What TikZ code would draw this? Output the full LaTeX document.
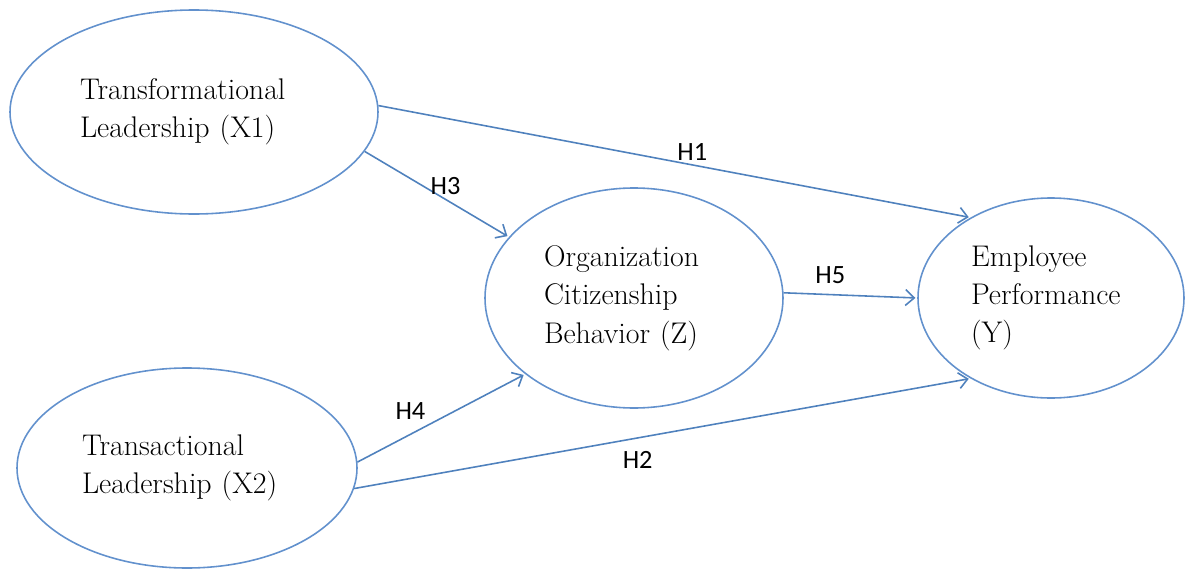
\documentclass[tikz,border=0pt]{standalone}
\usepackage{fontspec}
\newfontfamily\labelfont{Carlito}
\usetikzlibrary{arrows.meta,shapes.geometric}

\definecolor{linkblue}{RGB}{79,129,189}
\definecolor{ovalblue}{RGB}{98,145,205}

\begin{document}
\begin{tikzpicture}[
  construct/.style={draw=ovalblue, line width=0.9pt, ellipse, align=left, inner sep=0pt, font=\fontsize{17}{21.8}\selectfont},
  arrow/.style={-{Straight Barb[length=5pt,width=9pt]}, draw=linkblue, line width=0.9pt, shorten >=1pt},
  hyp/.style={font=\labelfont\fontsize{15}{18}\selectfont, inner sep=2pt}
]
\useasboundingbox (0,0) rectangle (23.72,-11.4);

\node[construct, minimum width=7.36cm, minimum height=4.08cm, text width=4.56cm] (x1) at (3.88,-2.24) {Transformational\\Leadership (X1)};
\node[construct, minimum width=6.8cm, minimum height=4.0cm, text width=4.2cm] (x2) at (3.74,-9.36) {Transactional\\Leadership (X2)};
\node[construct, minimum width=5.96cm, minimum height=4.4cm, text width=3.6cm] (z) at (12.68,-5.96) {Organization\\Citizenship\\Behavior (Z)};
\node[construct, minimum width=5.32cm, minimum height=4.0cm, text width=3.2cm] (y) at (21.02,-5.96) {Employee\\Performance\\(Y)};

\draw[arrow] (x1.2) -- node[hyp, pos=0.53, above] {H1} (y.135);
\draw[arrow] (x1.-13) -- node[hyp, pos=0.56, above] {H3} (z.154);
\draw[arrow] (z.2) -- node[hyp, pos=0.35, above=4pt] {H5} (y.180);
\draw[arrow] (x2.2) -- node[hyp, pos=0.43, above left] {H4} (z.215);
\draw[arrow] (x2.-7) -- node[hyp, pos=0.46, below=5pt] {H2} (y.225);
\end{tikzpicture}
\end{document}
